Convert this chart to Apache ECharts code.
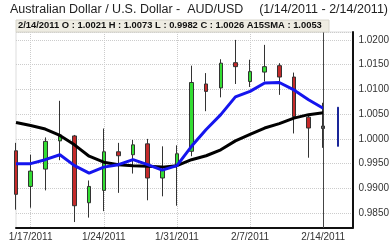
<!DOCTYPE html>
<html><head><meta charset="utf-8">
<script src="https://cdn.jsdelivr.net/npm/echarts@6/dist/echarts.min.js"></script>
<style>html,body{margin:0;padding:0;background:#fff}#c{width:392px;height:242px}</style>
</head><body><div id="c"></div>
<script>
const dates = ['1/14/2011','1/17/2011','1/18/2011','1/19/2011','1/20/2011','1/21/2011',
  '1/24/2011','1/25/2011','1/26/2011','1/27/2011','1/28/2011',
  '1/31/2011','2/1/2011','2/2/2011','2/3/2011','2/4/2011',
  '2/7/2011','2/8/2011','2/9/2011','2/10/2011','2/11/2011',
  '2/14/2011','2/15/2011',''];
const openV  = [0.9976,0.9904,0.9939,0.9996,1.0006,0.9871,0.9896,0.9974,0.9968,0.9990,0.9921,0.9946,0.9975,1.0111,1.0103,1.0154,1.0116,1.0135,1.0148,1.0125,1.0044,1.0021];
const closeV = [0.9888,0.9935,0.9995,1.0008,0.9865,0.9904,0.9974,0.9966,0.9988,0.9921,0.9937,0.9970,1.0114,1.0096,1.0153,1.0146,1.0136,1.0146,1.0125,1.0045,1.0022,1.0026];
const lowV   = [0.9857,0.9861,0.9896,0.9957,0.9832,0.9841,0.9854,0.9891,0.9930,0.9876,0.9884,0.9865,0.9965,1.0056,1.0084,1.0111,1.0105,1.0116,1.0089,1.0011,0.9962,0.9982];
const highV  = [0.9992,0.9968,1.0003,1.0077,1.0008,0.9916,1.0021,0.9992,0.9998,1.0000,0.9985,0.9987,1.0148,1.0133,1.0161,1.0200,1.0160,1.0190,1.0153,1.0134,1.0049,1.0073];
const sma15 = [1.0033,1.0027,1.0020,1.0007,0.9988,0.9965,0.9953,0.9948,0.9946,0.9945,0.9943,0.9946,0.9958,0.9966,0.9978,0.9996,1.0009,1.0022,1.0031,1.0042,1.0049,1.0053];
const smaShort = [0.9950,0.9950,0.9958,0.9968,0.9946,0.9931,0.9943,0.9948,0.9958,0.9948,0.9937,0.9946,0.9985,1.0019,1.0049,1.0085,1.0096,1.0113,1.0114,1.0099,1.0079,1.0062];
const nextLow = 0.9985, nextHigh = 1.0064;
const labelDates = ['1/17/2011','1/24/2011','1/31/2011','2/7/2011','2/14/2011'];
const titleLeft = 'Australian Dollar / U.S. Dollar -  AUD/USD';
const titleRight = '(1/14/2011 - 2/14/2011)';
const headerText = '2/14/2011 O : 1.0021 H : 1.0073 L : 0.9982 C : 1.0026 A15SMA : 1.0053';

const candleData = openV.map((o,i)=>{
  const d = {value:[o, closeV[i], lowV[i], highV[i]]};
  if (i === openV.length-1) d.itemStyle = {color:'#666', borderColor:'#333'};
  return d;
});
const blueData = dates.map((d,i)=> i===22 ? [nextHigh, nextLow, nextLow, nextHigh] : '-');
const showIdx = (i)=> labelDates.indexOf(dates[i]) >= 0;

const chart = echarts.init(document.getElementById('c'), null, {renderer:'canvas'});
chart.setOption({
  animation:false,
  grid:{left:16, right:33, top:32, bottom:13, show:true, borderColor:'#ddd', borderWidth:1},
  xAxis:{type:'category', data:dates, boundaryGap:false,
    axisLine:{lineStyle:{color:'#111', width:2}},
    axisTick:{show:false},
    axisLabel:{interval:(i)=>showIdx(i), margin:4, fontSize:10, color:'#333', fontFamily:'Liberation Sans, Arial', hideOverlap:false},
    splitLine:{show:true, interval:(i)=>showIdx(i), lineStyle:{color:'#ccc', type:'dotted'}}
  },
  yAxis:{type:'value', position:'right', min:0.982, max:1.0216, minInterval:0.005, maxInterval:0.005, scale:true,
    axisLine:{show:true, lineStyle:{color:'#111', width:2}},
    axisTick:{show:false},
    axisLabel:{showMinLabel:false, showMaxLabel:false, margin:6, fontSize:10, color:'#333', fontFamily:'Liberation Sans, Arial', formatter:(v)=>v.toFixed(4)},
    splitLine:{show:true, lineStyle:{color:'#ccc', type:'dotted'}}
  },
  series:[
    {type:'candlestick', data:candleData, barWidth:4, clip:true,
      itemStyle:{color:'#33dd33', color0:'#c42a2a', borderColor:'#333', borderColor0:'#333', borderWidth:1},
      markLine:{symbol:'none', silent:true, label:{show:false}, lineStyle:{color:'#444', width:1, type:'solid'},
        data:[{xAxis:'2/14/2011'}]}
    },
    {type:'candlestick', data:blueData, barWidth:2,
      itemStyle:{color:'#1a2699', color0:'#1a2699', borderColor:'#1a2699', borderColor0:'#1a2699', borderWidth:1}},
    {type:'line', data:sma15, symbol:'none', lineStyle:{color:'#000', width:3}, z:3},
    {type:'line', data:smaShort, symbol:'none', lineStyle:{color:'#1515ee', width:3}, z:4}
  ],
  graphic:[
    {type:'text', x:10, y:3, style:{text:titleLeft, font:'12.5px Liberation Sans, Arial', fill:'#222'}},
    {type:'text', x:388, y:3, style:{text:titleRight, font:'12.5px Liberation Sans, Arial', fill:'#222', textAlign:'right'}},
    {type:'rect', shape:{x:16, y:20, width:313, height:12}, style:{fill:'#eeece2', stroke:'#d8d6cc'}, z:10},
    {type:'text', x:18, y:20.5, style:{text:headerText, font:'bold 9.4px Liberation Sans, Arial', fill:'#111'}, z:11}
  ]
});
</script></body></html>
